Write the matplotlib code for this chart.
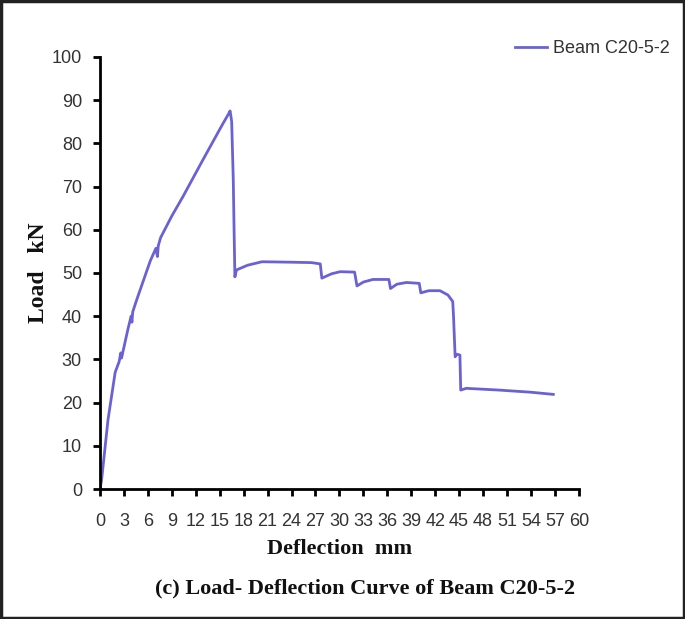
import matplotlib.pyplot as plt
from matplotlib.patches import Rectangle

# load-deflection points
deflection = [0.0, 0.2, 1.0, 1.9, 2.4, 2.6, 2.7, 2.9, 3.5, 3.9, 4.0, 4.1, 4.6,
              5.6, 6.3, 7.0, 7.2, 7.3, 7.6, 9.0, 10.4, 12.9, 15.2, 16.1, 16.3,
              16.4, 16.5, 16.7, 16.8, 16.9, 17.1, 18.5, 20.3, 23.8, 26.5, 27.6,
              27.8, 29.0, 30.1, 31.9, 32.2, 33.0, 34.2, 36.2, 36.4, 37.2, 38.4,
              40.0, 40.2, 41.2, 42.6, 43.6, 44.2, 44.3, 44.5, 44.7, 45.1, 45.2,
              45.9, 50.0, 54.0, 56.8]
load = [0.0, 2.1, 16.0, 27.0, 29.5, 31.5, 30.3, 32.0, 37.0, 40.0, 38.6, 41.0,
        43.8, 49.1, 52.8, 55.7, 53.8, 56.3, 58.2, 63.2, 67.7, 76.2, 83.9, 86.8,
        87.5, 86.3, 85.0, 71.5, 60.0, 49.1, 50.7, 51.8, 52.6, 52.5, 52.4, 52.1,
        48.8, 49.8, 50.3, 50.2, 47.0, 47.9, 48.5, 48.5, 46.4, 47.4, 47.8,
        47.6, 45.4, 45.9, 45.9, 44.9, 43.4, 39.9, 30.6, 31.2, 31.0, 22.9,
        23.3, 22.9, 22.4, 21.9]

x_ticks = list(range(0, 61, 3))
y_ticks = list(range(0, 101, 10))

line_color = '#6a62d4'
text_color = '#333333'
tick_font = 'Liberation Sans'
serif = 'Liberation Serif'

fig = plt.figure(figsize=(6.85, 6.19), dpi=100)
ax = fig.add_axes([0.146, 0.210, 0.699, 0.698])

ax.plot(deflection, load, color=line_color, lw=2.0, label='Beam C20-5-2')

ax.set_xlim(0, 60)
ax.set_ylim(0, 100)
ax.set_xticks(x_ticks)
ax.set_yticks(y_ticks)
for lab in ax.get_xticklabels() + ax.get_yticklabels():
    lab.set_family(tick_font)
    lab.set_fontsize(13)
    lab.set_color(text_color)

ax.spines['top'].set_visible(False)
ax.spines['right'].set_visible(False)
for s in ['left', 'bottom']:
    ax.spines[s].set_linewidth(2)
ax.tick_params(direction='out', length=5, width=2)
ax.tick_params(axis='x', pad=12.5)
ax.tick_params(axis='y', pad=8)

ax.set_xlabel('Deflection  mm', family=serif, fontweight='bold',
              fontsize=16, labelpad=6, color='#111111')
ax.set_ylabel('Load   kN', family=serif, fontweight='bold',
              fontsize=17, labelpad=2, color='#111111')

fig.text(0.533, 0.050, '(c) Load- Deflection Curve of Beam C20-5-2',
         family=serif, fontweight='bold', fontsize=16, color='#111111',
         ha='center', va='center')

leg = ax.legend(loc='center left', bbox_to_anchor=(0.728, 0.921),
                bbox_transform=fig.transFigure, frameon=False,
                handlelength=1.8, handletextpad=0.3,
                prop={'family': tick_font, 'size': 13})
for t in leg.get_texts():
    t.set_color(text_color)

# dark border round the whole picture
fig.patches.append(Rectangle((0.002, 0.002), 0.996, 0.996, transform=fig.transFigure,
                             fill=False, edgecolor='#222222', lw=2.5))

fig.savefig('out.png', dpi=100)
